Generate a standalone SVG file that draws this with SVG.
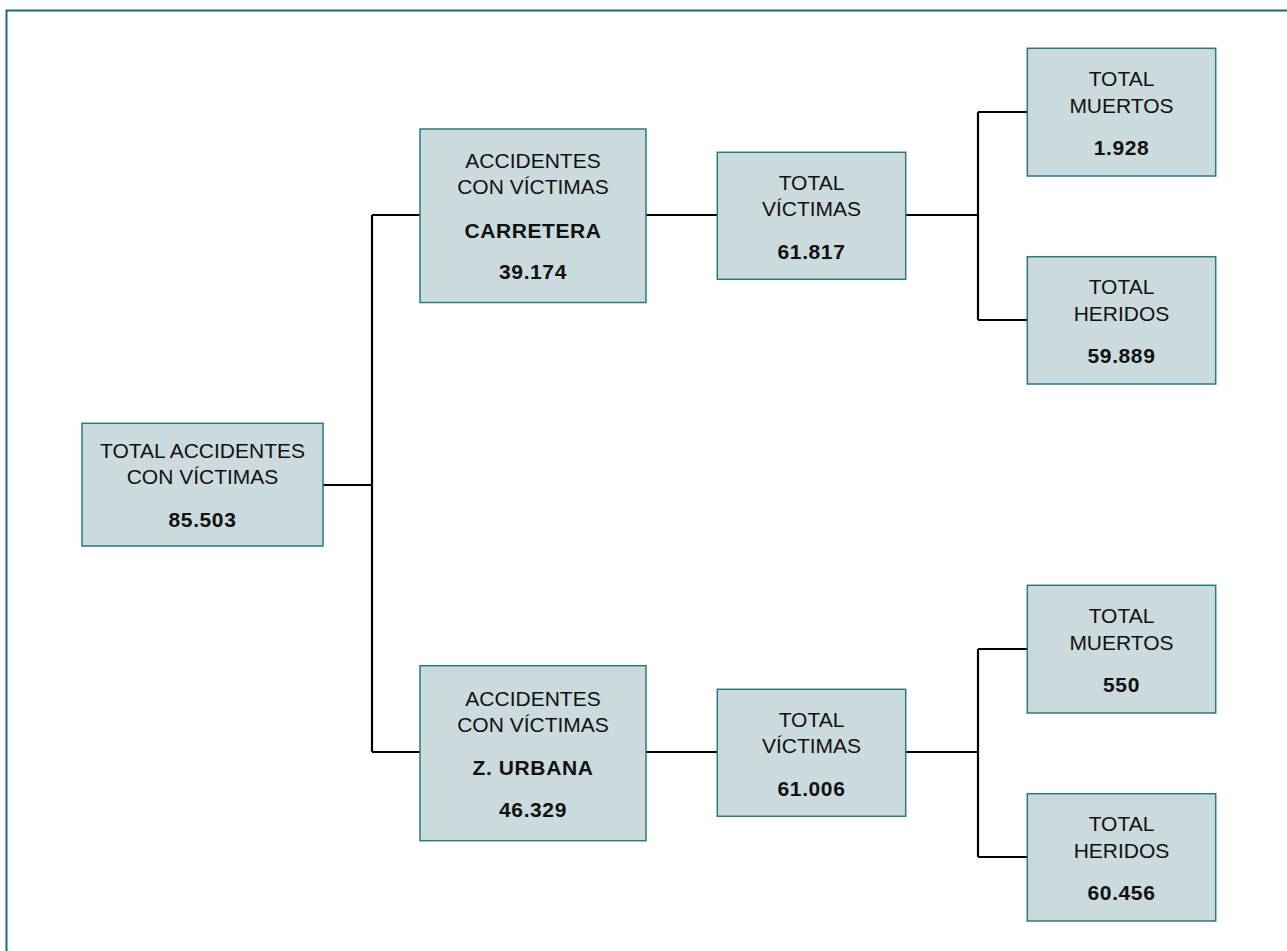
<svg xmlns="http://www.w3.org/2000/svg" width="1287" height="951" viewBox="0 0 1287 951">
<style>
.box{fill:#cbdadd;stroke:#2a7a7e;stroke-width:1.5}
.t{font-family:"Liberation Sans",Arial,sans-serif;font-size:21px;fill:#111;text-anchor:middle}
.b{font-weight:bold;letter-spacing:0.6px}
.c{fill:none;stroke:#000;stroke-width:2.2}
</style>
<rect width="1287" height="951" fill="#fff"/>
<path d="M6.5,951 V10.5 H1287" fill="none" stroke="#1a6e73" stroke-width="2"/>
<g id="connectors">
<path class="c" d="M323,485 H372 M372,215 V752 M372,215 H420 M372,752 H420"/>
<path class="c" d="M646,215 H717 M906,215 H978 M978,112 V320 M978,112 H1027 M978,320 H1027"/>
<path class="c" d="M646,752 H717 M906,752 H978 M978,649 V857 M978,649 H1027 M978,857 H1027"/>
</g>
<g id="root">
<rect class="box" x="82" y="423.3" width="241" height="122.7"/>
<text class="t" x="202.5" y="457.7">TOTAL ACCIDENTES</text>
<text class="t" x="202.5" y="484.3">CON VÍCTIMAS</text>
<text class="t b" x="202.5" y="527.3">85.503</text>
</g>
<g id="carretera">
<rect class="box" x="420" y="129" width="226" height="173.5"/>
<text class="t" x="533" y="168.3">ACCIDENTES</text>
<text class="t" x="533" y="194">CON VÍCTIMAS</text>
<text class="t b" x="533" y="238.3">CARRETERA</text>
<text class="t b" x="533" y="279.3">39.174</text>
</g>
<g id="victimas-carretera">
<rect class="box" x="717.3" y="152.3" width="188.4" height="127"/>
<text class="t" x="811.5" y="190">TOTAL</text>
<text class="t" x="811.5" y="216">VÍCTIMAS</text>
<text class="t b" x="811.5" y="259.3">61.817</text>
</g>
<g id="muertos-carretera">
<rect class="box" x="1027.3" y="48.3" width="188.4" height="127.7"/>
<text class="t" x="1121.5" y="85.7">TOTAL</text>
<text class="t" x="1121.5" y="112.7">MUERTOS</text>
<text class="t b" x="1121.5" y="155">1.928</text>
</g>
<g id="heridos-carretera">
<rect class="box" x="1027.3" y="256.7" width="188.4" height="127.3"/>
<text class="t" x="1121.5" y="294">TOTAL</text>
<text class="t" x="1121.5" y="320.7">HERIDOS</text>
<text class="t b" x="1121.5" y="362.7">59.889</text>
</g>
<g id="urbana">
<rect class="box" x="420" y="665.7" width="226" height="175"/>
<text class="t" x="533" y="705.7">ACCIDENTES</text>
<text class="t" x="533" y="731.7">CON VÍCTIMAS</text>
<text class="t b" x="533" y="775">Z. URBANA</text>
<text class="t b" x="533" y="816.7">46.329</text>
</g>
<g id="victimas-urbana">
<rect class="box" x="717.3" y="689.3" width="188.4" height="127"/>
<text class="t" x="811.5" y="727">TOTAL</text>
<text class="t" x="811.5" y="753">VÍCTIMAS</text>
<text class="t b" x="811.5" y="796.3">61.006</text>
</g>
<g id="muertos-urbana">
<rect class="box" x="1027.3" y="585.3" width="188.4" height="127.7"/>
<text class="t" x="1121.5" y="622.7">TOTAL</text>
<text class="t" x="1121.5" y="649.7">MUERTOS</text>
<text class="t b" x="1121.5" y="692">550</text>
</g>
<g id="heridos-urbana">
<rect class="box" x="1027.3" y="793.7" width="188.4" height="127.3"/>
<text class="t" x="1121.5" y="831">TOTAL</text>
<text class="t" x="1121.5" y="857.7">HERIDOS</text>
<text class="t b" x="1121.5" y="899.7">60.456</text>
</g>
</svg>
